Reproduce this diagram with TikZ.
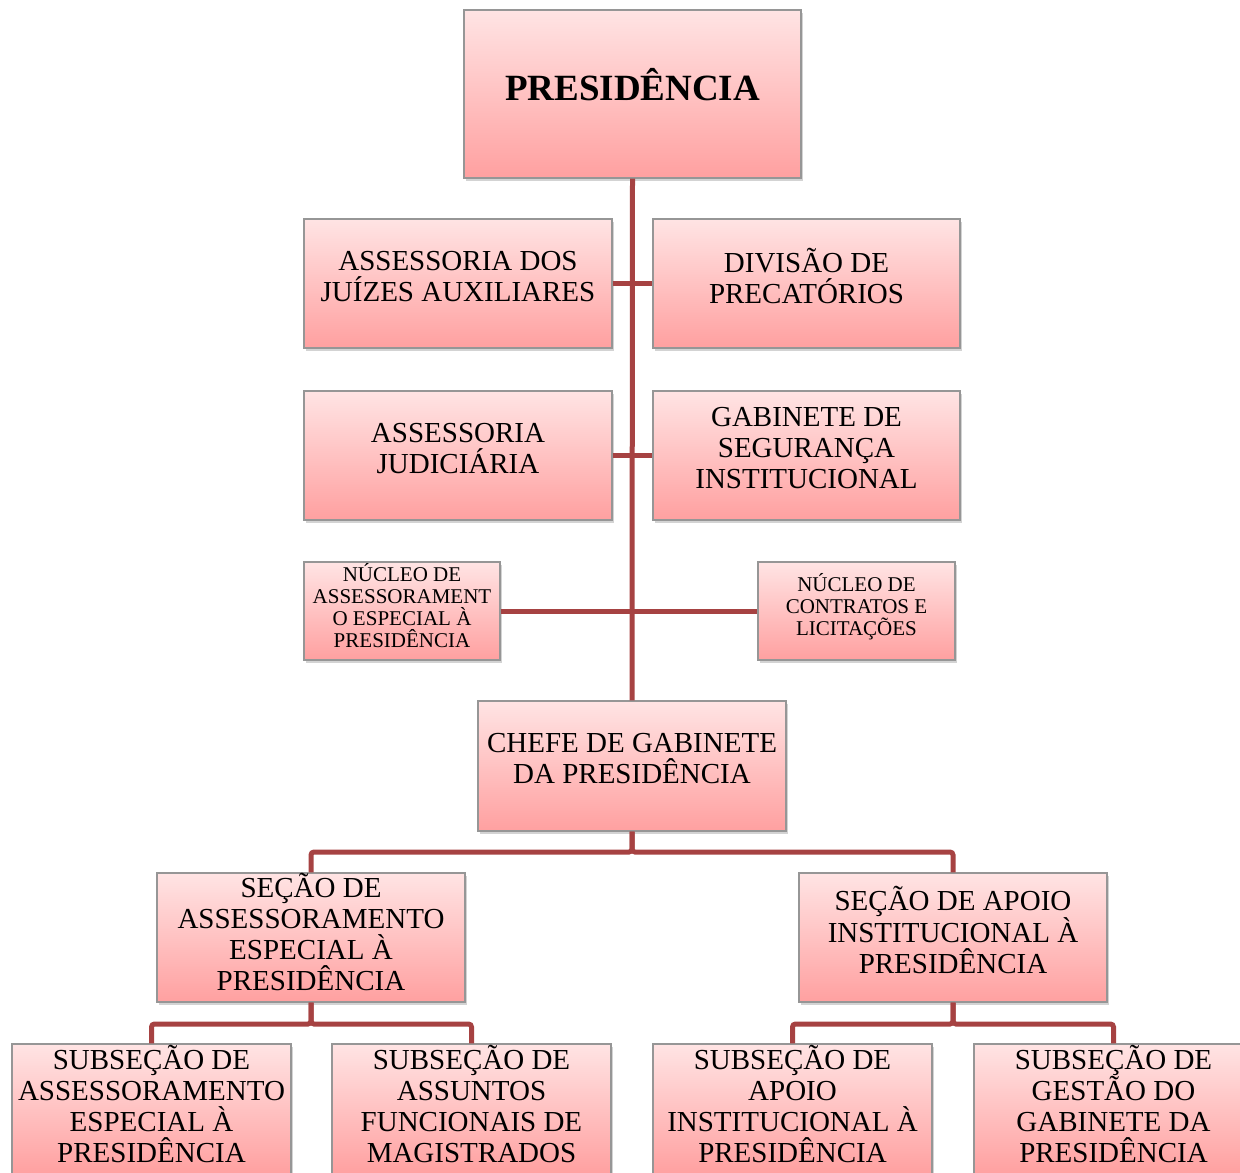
\documentclass[tikz,border=0pt]{standalone}
\usepackage{fontspec}
\setmainfont{Liberation Serif}
\usetikzlibrary{shadows}
\definecolor{boxtop}{RGB}{255,228,228}
\definecolor{boxbot}{RGB}{255,160,160}
\definecolor{boxline}{RGB}{150,150,150}
\definecolor{conn}{RGB}{166,66,66}
\tikzset{
  orgbox/.style={rectangle, draw=boxline, line width=1.2pt, top color=boxtop, bottom color=boxbot,
    drop shadow={opacity=0.35, shadow xshift=2pt, shadow yshift=-3pt},
    align=center, inner sep=0pt, text depth=15pt, font=\fontsize{29}{31}\selectfont},
  bigbox/.style={orgbox, minimum width=308pt, minimum height=129pt},
  fourline/.style={text depth=11pt},
  smallbox/.style={orgbox, minimum width=196pt, minimum height=98pt, text depth=11pt, font=\fontsize{21}{22}\selectfont},
  subbox/.style={orgbox, fourline, minimum width=279pt, minimum height=130pt},
  link/.style={draw=conn, line width=5pt},
}
\begin{document}
\begin{tikzpicture}[x=1pt,y=-1pt]
\useasboundingbox (0,0) rectangle (1240,1173);
\clip (0,0) rectangle (1240,1173);
\node[orgbox, minimum width=337pt, minimum height=168pt, text depth=20pt, font=\fontsize{37}{40}\selectfont\bfseries] (pres) at (632.5,94) {PRESIDÊNCIA};
\node[bigbox] (ajuiz) at (458,283.5) {ASSESSORIA DOS\\JUÍZES AUXILIARES};
\node[bigbox, minimum width=307pt] (div) at (806.5,283.5) {DIVISÃO DE\\PRECATÓRIOS};
\node[bigbox] (ajud) at (458,455.5) {ASSESSORIA\\JUDICIÁRIA};
\node[bigbox, minimum width=307pt] (gab) at (806.5,455.5) {GABINETE DE\\SEGURANÇA\\INSTITUCIONAL};
\node[smallbox] (nuc1) at (402,611) {NÚCLEO DE\\ASSESSORAMENT\\O ESPECIAL À\\PRESIDÊNCIA};
\node[smallbox, minimum width=197pt, text depth=14pt] (nuc2) at (856.5,611) {NÚCLEO DE\\CONTRATOS E\\LICITAÇÕES};
\node[bigbox, minimum height=130pt] (chefe) at (632,766) {CHEFE DE GABINETE\\DA PRESIDÊNCIA};
\node[bigbox, fourline] (sec1) at (311,937.5) {SEÇÃO DE\\ASSESSORAMENTO\\ESPECIAL À\\PRESIDÊNCIA};
\node[bigbox] (sec2) at (953,937.5) {SEÇÃO DE APOIO\\INSTITUCIONAL À\\PRESIDÊNCIA};
\node[subbox] (sub1) at (151.5,1109) {SUBSEÇÃO DE\\ASSESSORAMENTO\\ESPECIAL À\\PRESIDÊNCIA};
\node[subbox] (sub2) at (471.5,1109) {SUBSEÇÃO DE\\ASSUNTOS\\FUNCIONAIS DE\\MAGISTRADOS};
\node[subbox] (sub3) at (792.5,1109) {SUBSEÇÃO DE\\APOIO\\INSTITUCIONAL À\\PRESIDÊNCIA};
\node[subbox] (sub4) at (1113.5,1109) {SUBSEÇÃO DE\\GESTÃO DO\\GABINETE DA\\PRESIDÊNCIA};
% connectors
\draw[link] (pres.south) -- (chefe.north);
\draw[link] (ajuiz.east) -- (div.west);
\draw[link] (ajud.east) -- (gab.west);
\draw[link] (nuc1.east) -- (nuc2.west);
\coordinate (j1) at (632,852);
\draw[link, rounded corners=3pt] (chefe.south) -- (j1) -| (sec1.north);
\draw[link, rounded corners=3pt] (chefe.south) -- (j1) -| (sec2.north);
\coordinate (j2) at (311,1024);
\draw[link, rounded corners=3pt] (sec1.south) -- (j2) -| (sub1.north);
\draw[link, rounded corners=3pt] (sec1.south) -- (j2) -| (sub2.north);
\coordinate (j3) at (953,1024);
\draw[link, rounded corners=3pt] (sec2.south) -- (j3) -| (sub3.north);
\draw[link, rounded corners=3pt] (sec2.south) -- (j3) -| (sub4.north);
\end{tikzpicture}
\end{document}
